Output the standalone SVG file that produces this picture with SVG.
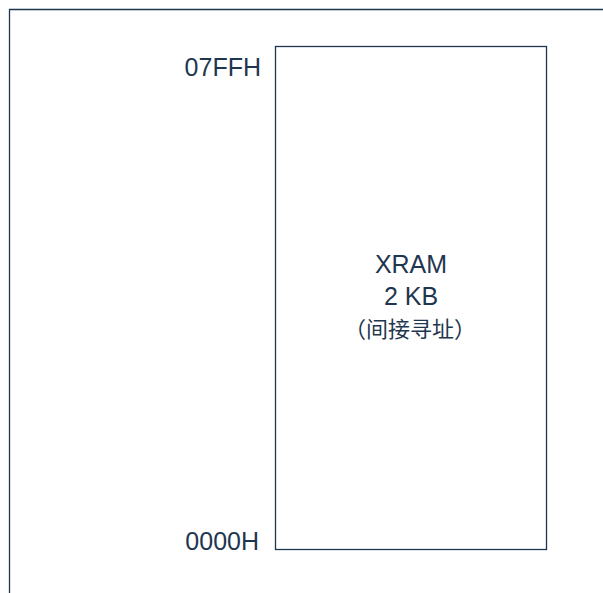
<svg xmlns="http://www.w3.org/2000/svg" width="603" height="593" viewBox="0 0 603 593">
<style>
.ln{fill:none;stroke:#1f3650;stroke-width:1.3}
.t{font-family:"Liberation Sans",Arial,"Noto Sans CJK SC",sans-serif;font-size:25px;fill:#1f3650}
.c{font-family:"Noto Sans CJK SC",sans-serif;font-size:22px;fill:#1f3650}
</style>
<rect width="603" height="593" fill="#ffffff"/>
<g id="frame"><path class="ln" d="M9.5,593 V9.5 H603"/></g>
<g id="xram">
<rect class="ln" x="275.5" y="46.5" width="271" height="503"/>
<text class="t" x="411" y="273" text-anchor="middle">XRAM</text>
<text class="t" x="411" y="305" text-anchor="middle">2 KB</text>
<text class="c" x="410" y="337" text-anchor="middle">（间接寻址）</text>
</g>
<g id="labels">
<text class="t" x="261" y="76" text-anchor="end">07FFH</text>
<text class="t" x="259" y="550" text-anchor="end">0000H</text>
</g>
<g id="connectors"></g>
</svg>
